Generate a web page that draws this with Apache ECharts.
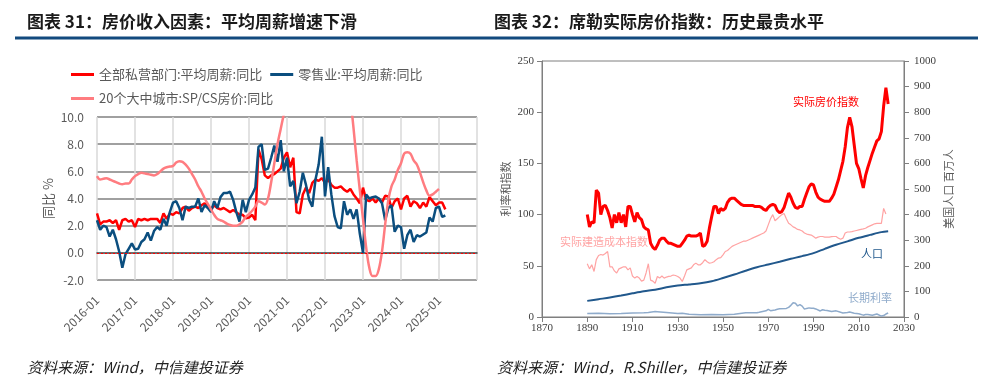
<!DOCTYPE html>
<html><head><meta charset="utf-8">
<script src="https://cdn.jsdelivr.net/npm/echarts@6/dist/echarts.min.js"></script>
<style>html,body{margin:0;padding:0;background:#fff}#c{width:993px;height:388px}</style>
</head><body><div id="c"></div>
<script>
// ---------- Left chart data (monthly, YoY %) ----------
const monthStartYear = 2016;
const monthCount = 121; // 2016-01 .. 2026-01 (axis span)
const months = [];
for (let i = 0; i < monthCount; i++) {
  const y = monthStartYear + Math.floor(i / 12), m = i % 12 + 1;
  months.push(y + '-' + (m < 10 ? '0' : '') + m);
}
const leftNames = ['全部私营部门:平均周薪:同比', '零售业:平均周薪:同比', '20个大中城市:SP/CS房价:同比'];
// 2016-01 .. 2025-03
const privateWage = [
  2.9,2.1,2.3,2.3,2.4,2.2,2.4,1.7,2.4,2.5,2.3,2.4,
  1.9,2.5,2.4,2.5,2.4,2.5,2.5,2.5,2.2,2.9,2.5,2.9,
  2.8,3.0,2.9,3.3,3.4,3.1,3.3,3.4,3.3,3.5,3.65,3.4,
  3.2,3.5,3.3,3.2,3.3,3.15,3.0,3.15,3.0,2.8,2.8,2.55,
  2.6,2.8,2.4,7.6,6.9,5.7,5.5,5.7,5.8,6.0,6.2,7.0,
  7.4,6.3,7.0,3.0,2.9,4.3,4.8,4.4,5.15,5.4,5.3,5.5,
  5.15,5.4,5.0,4.8,4.8,4.9,4.65,4.5,4.7,4.3,4.0,3.65,
  4.8,3.9,3.8,4.0,3.7,4.0,3.7,4.2,4.15,3.3,3.8,4.0,
  3.2,4.0,4.2,3.4,3.8,3.65,3.3,3.7,3.4,4.1,3.8,3.5,
  3.7,3.7,3.2
];
const retailWage = [
  2.4,1.7,2.0,1.9,1.2,1.7,1.0,0.1,-1.1,-0.1,0.3,0.7,
  0.25,0.3,0.8,1.0,1.5,0.9,1.6,1.9,1.7,2.5,2.0,3.0,
  3.7,3.8,3.3,2.4,3.4,3.3,3.4,3.4,4.0,3.0,3.5,3.3,
  3.0,3.8,3.3,4.1,4.4,4.4,4.5,3.9,3.0,2.3,3.9,3.0,
  3.9,4.3,4.8,7.8,8.0,6.1,6.2,7.0,7.9,6.7,8.3,6.0,
  7.0,4.9,5.3,3.65,4.5,5.9,5.0,3.9,3.4,5.4,6.5,8.55,
  4.15,6.3,4.3,2.7,1.9,1.8,3.8,2.8,3.2,2.5,3.2,1.4,
  0.0,4.3,4.0,4.1,4.15,4.0,3.65,2.4,3.3,3.5,1.55,2.0,
  1.9,0.3,1.3,1.7,0.8,1.3,1.2,1.35,1.5,2.6,2.3,3.3,
  3.4,2.65,2.75
];
// 2016-01 .. 2025-01
const csHomePrice = [
  5.65,5.4,5.45,5.5,5.4,5.3,5.2,5.1,5.05,5.1,5.1,5.4,
  5.65,5.8,5.9,5.85,5.8,5.75,5.7,5.8,6.0,6.2,6.3,6.35,
  6.4,6.65,6.75,6.7,6.5,6.2,5.8,5.4,4.9,4.5,4.0,3.6,
  3.2,2.8,2.5,2.4,2.3,2.15,2.05,2.0,2.0,2.1,2.3,2.65,
  2.85,3.1,3.4,3.8,3.7,3.55,4.0,5.2,6.6,8.0,9.1,10.2,
  11.1,12.0,13.3,14.8,16.9,18.7,19.7,19.8,19.7,18.5,18.3,18.6,
  19.0,20.2,21.2,21.2,20.5,18.7,16.1,14.0,11.5,9.2,6.8,4.6,
  2.5,0.4,-1.1,-1.7,-1.7,-1.2,0.1,2.1,3.9,4.9,5.4,6.1,
  6.6,7.3,7.4,7.3,6.8,6.5,5.9,5.2,4.6,4.2,4.3,4.5,
  4.7
];

// ---------- Right chart data (Shiller, annual) ----------
const shillerStartYear = 1890;
const realHomePrice = [ // 1890..2023
  100,88,93,92,124,121,100,108,109,104,
  97,87,100,92,102,92,100,88,108,108,
  100,93,102,97,95,88,86,85,72,68,
  66,70,75,77,77,74,72,72,71,70,
  69,69,72,75,79,80,79,79,79,80,
  82,69,70,74,87,98,108,108,101,106,
  104,106,112,115,116,116,114,112,110,109,
  109,109,109,109,108,108,108,107,105,104,
  107,109,110,109,104,102,103,107,114,121,
  117,111,107,106,108,108,115,121,127,130,
  129,122,117,115,114,113,113,113,116,120,
  127,134,143,152,166,185,195,186,168,150,
  145,135,126,138,146,153,160,166,172,174,
  181,206,224,208
];
const realBuildCost = [ // 1890..2022
  52,47,51,44.5,56,60,61,60.5,62,64,
  49,49,45,43,47,48,49,49,46,48,
  40,38,39.6,38,35,36,43,52,36,35,
  33,39.6,38,40,38,39,39.6,40,41,40.5,
  39.6,38,34.7,40,46,47,48,51,52.6,51,
  51,53,56,54,52.6,53,54,56,57.5,58,
  60.7,64,65,67,69,70,71,72,73,74,
  74,75,76,77,78,79,80,81,82,84,
  90,96,100,94,96,98,100,101,96,91.5,
  90,88,87,85.5,85,84,82,81,80.5,80,
  78.5,77,78,78.6,78.6,78,78,78,78.5,78.6,
  78.6,77,76,77,82,83,83,83.4,84,84.5,
  85,85.5,86,86.7,88,89,90,91,91.5,91.5,
  91.5,106,100.6
];
const popYears = [1890,1895,1900,1905,1910,1915,1920,1925,1930,1935,1940,1945,1950,1955,1960,1965,1970,1975,1980,1985,1990,1995,2000,2005,2010,2015,2020,2023];
const population = [63,69.6,76.1,83.8,92.4,100.5,106.5,115.8,123.1,127.3,132.1,139.9,152.3,165.9,180.7,194.3,205.1,216.0,227.2,237.9,249.6,266.3,282.2,295.5,309.3,320.7,331.5,334.9];
const rateYears = [1890,1895,1900,1905,1910,1915,1917,1920,1921,1925,1930,1932,1935,1940,1945,1950,1955,1960,1965,1966,1969,1970,1971,1973,1974,1975,1978,1979,1980,1981,1982,1983,1984,1985,1986,1987,1988,1989,1990,1991,1993,1994,1995,1996,1998,2000,2002,2003,2005,2006,2008,2010,2012,2013,2014,2016,2018,2020,2021,2022,2023];
const longRate = [3.4,3.6,3.2,3.3,3.9,4.2,4.5,5.3,5.1,4.3,3.3,3.7,2.8,2.2,2.4,2.3,2.8,4.1,4.2,4.6,6.0,7.4,6.2,6.9,7.6,8.0,8.4,9.4,11.4,14.0,13.5,10.8,12.0,10.6,7.7,8.4,8.9,8.5,8.6,7.9,5.9,7.1,6.6,6.4,5.3,6.0,4.6,4.0,4.3,4.8,3.7,3.2,1.8,2.4,2.5,1.8,2.9,0.9,1.4,2.9,3.9];

const annual = (arr, start) => arr.map((v, i) => [start + i, v]);
const pairs = (xs, ys) => xs.map((x, i) => [x, ys[i]]);
const plain = v => String(v);

const CJK = '"Noto Sans CJK SC", "Microsoft YaHei", sans-serif';
const SERIF = '"Liberation Serif", "Times New Roman", serif';
const grey = '#595959';

const chart = echarts.init(document.getElementById('c'), null, {width: 993, height: 388});
chart.setOption({
  animation: false,
  backgroundColor: '#fff',
  textStyle: {fontFamily: CJK},
  grid: [
    {left: 97, top: 117, width: 380, height: 163},
    {left: 542, top: 61, width: 362, height: 256, show: true, borderColor: '#7f7f7f', borderWidth: 1}
  ],
  legend: [
    {data: [leftNames[0], leftNames[1]], left: 66, top: 63, itemWidth: 23, itemHeight: 3, icon: 'rect', itemGap: 8,
     selectedMode: false, textStyle: {fontSize: 13, color: grey, fontFamily: CJK}},
    {data: [leftNames[2]], left: 66, top: 87, itemWidth: 23, itemHeight: 3, icon: 'rect',
     selectedMode: false, textStyle: {fontSize: 13, color: grey, fontFamily: CJK}}
  ],
  xAxis: [
    {type: 'category', gridIndex: 0, data: months, boundaryGap: false,
     axisLine: {lineStyle: {color: '#404040', width: 1.5}}, axisTick: {show: false},
     axisLabel: {interval: 11, rotate: 45, color: grey, fontSize: 12, margin: 18,
                 formatter: v => (v === months[monthCount - 1] ? '' : v)},
     splitLine: {show: true, interval: 11, lineStyle: {color: '#d9d9d9', width: 1.5}}},
    {type: 'value', gridIndex: 1, min: 1870, max: 2030, interval: 20,
     axisLine: {lineStyle: {color: '#7f7f7f'}}, axisTick: {length: 5, lineStyle: {color: '#7f7f7f'}},
     axisLabel: {color: '#404040', fontFamily: SERIF, fontSize: 11, margin: 6, formatter: plain}, splitLine: {show: false}}
  ],
  yAxis: [
    {type: 'value', gridIndex: 0, min: -2, max: 10, interval: 2,
     axisLine: {show: false}, axisTick: {show: false},
     axisLabel: {formatter: v => v.toFixed(1), color: grey, fontSize: 12, margin: 13},
     splitLine: {lineStyle: {color: ['#808080', 'rgba(0,0,0,0)', '#808080', '#808080', '#808080', '#808080', '#808080'], width: 1.5}},
     name: '同比 %', nameLocation: 'middle', nameRotate: 90, nameGap: 42,
     nameTextStyle: {color: grey, fontSize: 13}},
    {type: 'value', gridIndex: 1, min: 0, max: 250, interval: 50, position: 'left',
     axisLine: {show: true, lineStyle: {color: '#7f7f7f'}}, axisTick: {show: true, length: 5, lineStyle: {color: '#7f7f7f'}},
     axisLabel: {color: '#404040', fontFamily: SERIF, fontSize: 11, margin: 8, formatter: plain}, splitLine: {show: false},
     name: '利率和指数', nameLocation: 'middle', nameRotate: 90, nameGap: 31,
     nameTextStyle: {color: grey, fontSize: 11}},
    {type: 'value', gridIndex: 1, min: 0, max: 1000, interval: 100, position: 'right',
     axisLine: {show: true, lineStyle: {color: '#7f7f7f'}}, axisTick: {show: true, length: 5, lineStyle: {color: '#7f7f7f'}},
     axisLabel: {color: '#404040', fontFamily: SERIF, fontSize: 11, margin: 10, formatter: plain}, splitLine: {show: false},
     name: '美国人口 百万人', nameLocation: 'middle', nameRotate: 90, nameGap: 39,
     nameTextStyle: {color: grey, fontSize: 11}}
  ],
  series: [
    {name: leftNames[0], type: 'line', xAxisIndex: 0, yAxisIndex: 0, data: privateWage, symbol: 'none',
     lineStyle: {color: '#ff0000', width: 2.5}, itemStyle: {color: '#ff0000'},
     markLine: {silent: true, symbol: 'none', label: {show: false}, animation: false,
                lineStyle: {color: '#ff0000', type: [2, 2], width: 1}, data: [{yAxis: 0}]}},
    {name: leftNames[1], type: 'line', xAxisIndex: 0, yAxisIndex: 0, data: retailWage, symbol: 'none',
     lineStyle: {color: '#0b4e7f', width: 2.5}, itemStyle: {color: '#0b4e7f'}},
    {name: leftNames[2], type: 'line', xAxisIndex: 0, yAxisIndex: 0, data: csHomePrice, symbol: 'none', smooth: 0.35,
     lineStyle: {color: '#ff7c80', width: 2.5}, itemStyle: {color: '#ff7c80'}},

    {type: 'line', xAxisIndex: 1, yAxisIndex: 1, data: annual(realBuildCost, shillerStartYear), symbol: 'none',
     lineStyle: {color: '#ffa3a3', width: 1.2}},
    {type: 'line', xAxisIndex: 1, yAxisIndex: 2, data: pairs(popYears, population), symbol: 'none', smooth: 0.3,
     lineStyle: {color: '#21588c', width: 2}},
    {type: 'line', xAxisIndex: 1, yAxisIndex: 1, data: pairs(rateYears, longRate), symbol: 'none',
     lineStyle: {color: '#8fabcb', width: 1.5}},
    {type: 'line', xAxisIndex: 1, yAxisIndex: 1, data: annual(realHomePrice, shillerStartYear), symbol: 'none',
     lineStyle: {color: '#ff0000', width: 3}}
  ],
  graphic: [
    {type: 'text', x: 27, y: 22, style: {text: '图表 31：房价收入因素：平均周薪增速下滑', font: 'bold 17px ' + CJK, fill: '#1a1a1a', verticalAlign: 'middle'}},
    {type: 'text', x: 494, y: 22, style: {text: '图表 32：席勒实际房价指数：历史最贵水平', font: 'bold 17px ' + CJK, fill: '#1a1a1a', verticalAlign: 'middle'}},
    {type: 'rect', shape: {x: 15, y: 36.5, width: 963, height: 3}, style: {fill: '#124a7e'}},
    {type: 'text', x: 27, y: 367, style: {text: '资料来源：Wind，中信建投证券', font: 'italic 15px ' + CJK, fill: '#222', verticalAlign: 'middle'}},
    {type: 'text', x: 497, y: 367, style: {text: '资料来源：Wind，R.Shiller，中信建投证券', font: 'italic 15px ' + CJK, fill: '#222', verticalAlign: 'middle'}},
    {type: 'text', x: 826, y: 102, style: {text: '实际房价指数', font: '11px ' + CJK, fill: '#ff0000', align: 'center', verticalAlign: 'middle'}},
    {type: 'text', x: 604, y: 242, style: {text: '实际建造成本指数', font: '11px ' + CJK, fill: '#ffa3a3', align: 'center', verticalAlign: 'middle'}},
    {type: 'text', x: 872, y: 254, style: {text: '人口', font: '11px ' + CJK, fill: '#21588c', align: 'center', verticalAlign: 'middle'}},
    {type: 'text', x: 870, y: 298, style: {text: '长期利率', font: '11px ' + CJK, fill: '#8fabcb', align: 'center', verticalAlign: 'middle'}}
  ]
});
</script>
</body></html>
